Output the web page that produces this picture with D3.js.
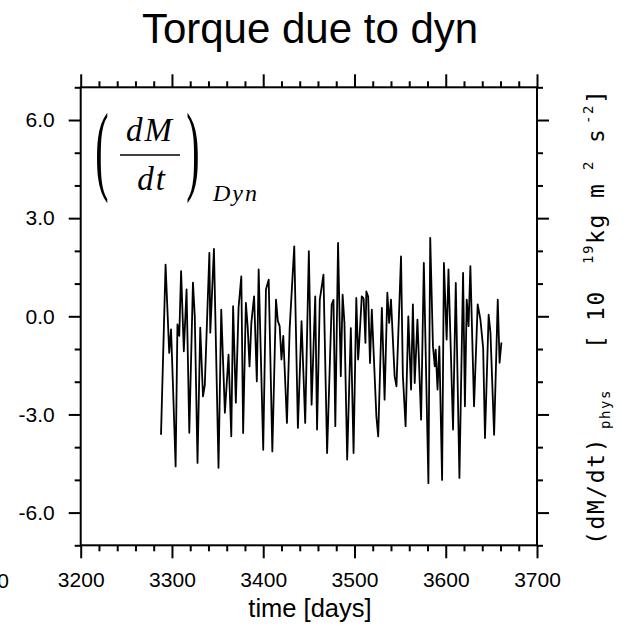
<!DOCTYPE html>
<html>
<head>
<meta charset="utf-8">
<script src="https://cdn.jsdelivr.net/npm/d3@7"></script>
<style>
body { margin: 0; background: #fff; }
svg { display: block; font-family: "Liberation Sans", Arial, sans-serif; }
.axis text { font-family: "Liberation Sans", Arial, sans-serif; font-size: 21px; fill: #000; }
.axis line { stroke: #000; stroke-width: 2; }
.axis .domain { display: none; }
.math { font-family: "Liberation Serif", "Times New Roman", serif; font-style: italic; fill: #000; }
</style>
</head>
<body>
<svg id="chart" width="631" height="631"></svg>
<script>
// values (days, torque in 10^19 kg m2 s-2)
let days = [3288, 3293, 3297, 3299, 3301, 3304, 3306, 3308, 3310, 3313, 3316, 3319, 3323, 3325, 3328,
  3331, 3334, 3336, 3341, 3342, 3346, 3351, 3354, 3358, 3362, 3365, 3367, 3370, 3373, 3376,
  3378, 3381, 3383, 3385, 3387, 3390, 3393, 3395, 3400, 3403, 3406, 3410, 3414, 3416, 3418,
  3420, 3422, 3426, 3429, 3434, 3438, 3442, 3446, 3450, 3453, 3457, 3459, 3462, 3466, 3470,
  3475, 3477, 3479, 3482, 3485, 3487, 3489, 3492, 3496, 3499, 3502, 3504, 3505, 3508, 3510,
  3512, 3513, 3515, 3517, 3519, 3524, 3526, 3530, 3533, 3536, 3538, 3540, 3544, 3546, 3551,
  3553, 3556, 3559, 3562, 3564, 3566, 3569, 3573, 3576, 3581, 3583, 3586, 3588, 3589, 3591,
  3593, 3596, 3598, 3601, 3603, 3608, 3609, 3611, 3615, 3619, 3621, 3623, 3625, 3627, 3631,
  3635, 3638, 3641, 3643, 3647, 3649, 3653, 3657, 3659, 3661];
let torque = [-3.62, 1.58, -1.12, -0.40, -2.03, -4.59, -0.25, -0.60, 1.38, -1.07, 0.82, -3.56, 1.03, 0.00, -4.48,
  -0.35, -2.45, -2.10, 1.94, -0.50, 2.06, -4.63, 0.20, -2.95, -1.17, -3.67, 0.31, -2.64, 0.27, 1.22,
  -3.57, 0.41, -0.33, -1.53, -0.20, 0.61, -1.99, 1.43, -4.08, 0.82, 1.12, -4.13, 0.51, -0.14, -0.30,
  -1.32, -0.60, -3.26, -0.36, 2.14, -3.41, -0.15, -3.26, 1.99, -2.70, 0.61, -3.46, 0.51, 1.27, -4.18,
  0.36, 0.50, -3.36, 2.24, -1.83, 0.66, -0.20, -4.38, -0.36, -4.18, 0.56, -1.32, -0.90, 0.61, 0.55,
  -0.81, 0.76, 0.60, -1.43, 0.20, -3.06, -3.67, 0.26, -2.55, 0.72, -0.20, 0.51, -1.83, -2.14, 1.83,
  -1.80, -3.36, 0.00, -2.24, 0.36, -2.04, -0.10, -3.16, 1.63, -5.10, 2.40, -0.92, -1.53, -1.02, -2.24,
  -0.92, -5.00, 1.63, -0.71, 1.43, -3.46, -1.94, 1.02, -4.94, 1.33, -2.75, 0.51, -0.30, 1.53, -2.75,
  0.36, -0.10, -0.97, -3.72, 0.05, -0.50, -3.62, 0.51, -1.42, -0.80];
let xTicks = [3200, 3300, 3400, 3500, 3600, 3700],
    yTicks = [-6, -3, 0, 3, 6];

let width = 631,
  height = 631,
  margins = {left: 80.7, right: 94, top: 87.3, bottom: 85.7};

function make_scales() {
  return {
    x: d3.scaleLinear().domain([3200, 3700]).range([margins.left, width - margins.right]),
    y: d3.scaleLinear().domain([-7, 7]).range([height - margins.bottom, margins.top])
  }
}

function axes(svg, scales) {
  let xMinor = d3.range(3200, 3701, 20).filter(d => xTicks.indexOf(d) == -1),
      yMinor = d3.range(-7, 7.01, 1).filter(d => yTicks.indexOf(d) == -1),
      bottom = height - margins.bottom,
      right = width - margins.right,
      yFormat = d => d3.format(".1f")(d).replace("\u2212", "-");

  let add = (axis, transform) => svg.append("g").attr("class", "axis")
    .attr("transform", transform).call(axis);

  add(d3.axisBottom(scales.x).tickValues(xTicks).tickSize(13).tickPadding(14).tickFormat(d3.format("d")),
      `translate(0,${bottom})`);
  add(d3.axisBottom(scales.x).tickValues(xMinor).tickSize(6).tickFormat(""), `translate(0,${bottom})`);
  add(d3.axisTop(scales.x).tickValues(xTicks).tickSize(13).tickFormat(""), `translate(0,${margins.top})`);
  add(d3.axisTop(scales.x).tickValues(xMinor).tickSize(6).tickFormat(""), `translate(0,${margins.top})`);
  add(d3.axisLeft(scales.y).tickValues(yTicks).tickSize(12).tickPadding(14).tickFormat(yFormat),
      `translate(${margins.left},0)`);
  add(d3.axisLeft(scales.y).tickValues(yMinor).tickSize(6).tickFormat(""), `translate(${margins.left},0)`);
  add(d3.axisRight(scales.y).tickValues(yTicks).tickSize(12).tickFormat(""), `translate(${right},0)`);
  add(d3.axisRight(scales.y).tickValues(yMinor).tickSize(6).tickFormat(""), `translate(${right},0)`);

  svg.append("rect")
    .attrs({x: margins.left, y: margins.top, width: right - margins.left, height: bottom - margins.top})
}

function labels(svg) {
  svg.append("text").text("Torque due to dyn")
    .attr("x", 310).attr("y", 43).attr("text-anchor", "middle").attr("font-size", 42);

  svg.append("text").text("time [days]")
    .attr("x", 310).attr("y", 617).attr("text-anchor", "middle").attr("font-size", 25.5);

  // left-over label of the neighbouring panel
  svg.append("text").text("3100")
    .attr("x", 9).attr("y", 588).attr("text-anchor", "end").attr("font-size", 21);

  // right side unit label, rotated
  let right = svg.append("text")
    .attr("transform", "translate(604,545) rotate(-90)")
    .attr("font-family", "'DejaVu Sans Mono', 'Liberation Mono', monospace")
    .attr("font-size", 23)
    .attr("letter-spacing", 1.6);
  let parts = [
    {t: "(dM/dt)", s: 0, base: 0, size: 23},
    {t: "phys", s: 116, base: 6, size: 14},
    {t: "[", s: 196, base: 0, size: 23},
    {t: "10", s: 224, base: 0, size: 23},
    {t: "19", s: 281, base: -11, size: 14},
    {t: "kg", s: 301, base: 0, size: 23},
    {t: "m", s: 347, base: 0, size: 23},
    {t: "2", s: 375, base: -11, size: 14},
    {t: "s", s: 402, base: 0, size: 23},
    {t: "-2", s: 421, base: -11, size: 14},
    {t: "]", s: 441, base: 0, size: 23}
  ];
  parts.forEach(p => right.append("tspan").text(p.t)
    .attr("x", p.s).attr("y", p.base).attr("font-size", p.size));

  // (dM/dt)_Dyn in the upper left corner
  let m = svg.append("g").attr("class", "math");
  m.append("text").text("(").attr("transform", "translate(102,182) scale(0.4,1)")
    .attr("text-anchor", "middle").attr("font-size", 100).style("font-style", "normal");
  m.append("text").text(")").attr("transform", "translate(193,182) scale(0.4,1)")
    .attr("text-anchor", "middle").attr("font-size", 100).style("font-style", "normal");
  m.append("text").text("dM").attr("x", 150).attr("y", 141).attr("text-anchor", "middle")
    .attr("font-size", 33).attr("letter-spacing", 2);
  m.append("line").attrs({x1: 120, x2: 180, y1: 155, y2: 155}).attr("stroke", "#000").attr("stroke-width", 1.3);
  m.append("text").text("dt").attr("x", 152).attr("y", 190).attr("text-anchor", "middle")
    .attr("font-size", 33).attr("letter-spacing", 2);
  m.append("text").text("Dyn").attr("x", 213).attr("y", 201).attr("font-size", 24)
    .attr("letter-spacing", 2);
}

function visualize() {
  let svg = d3.select("#chart"),
      scales = make_scales(),
      data = days.map((d, i) => ({day: d, val: torque[i]}));

  axes(svg, scales);
  svg.select("rect").attr("fill", "none").attr("stroke", "#000").attr("stroke-width", 2);

  svg.append("path")
    .datum(data)
    .attr("fill", "none")
    .attr("stroke", "#000")
    .attr("stroke-width", 1.8)
    .attr("stroke-linejoin", "round")
    .attr("d", d3.line().x(d => scales.x(d.day)).y(d => scales.y(d.val)));

  labels(svg);
}

// d3 v7 has no .attrs, so a tiny helper
d3.selection.prototype.attrs = function(o) {
  for (let k in o) this.attr(k, o[k]);
  return this;
};

visualize();
</script>
</body>
</html>
